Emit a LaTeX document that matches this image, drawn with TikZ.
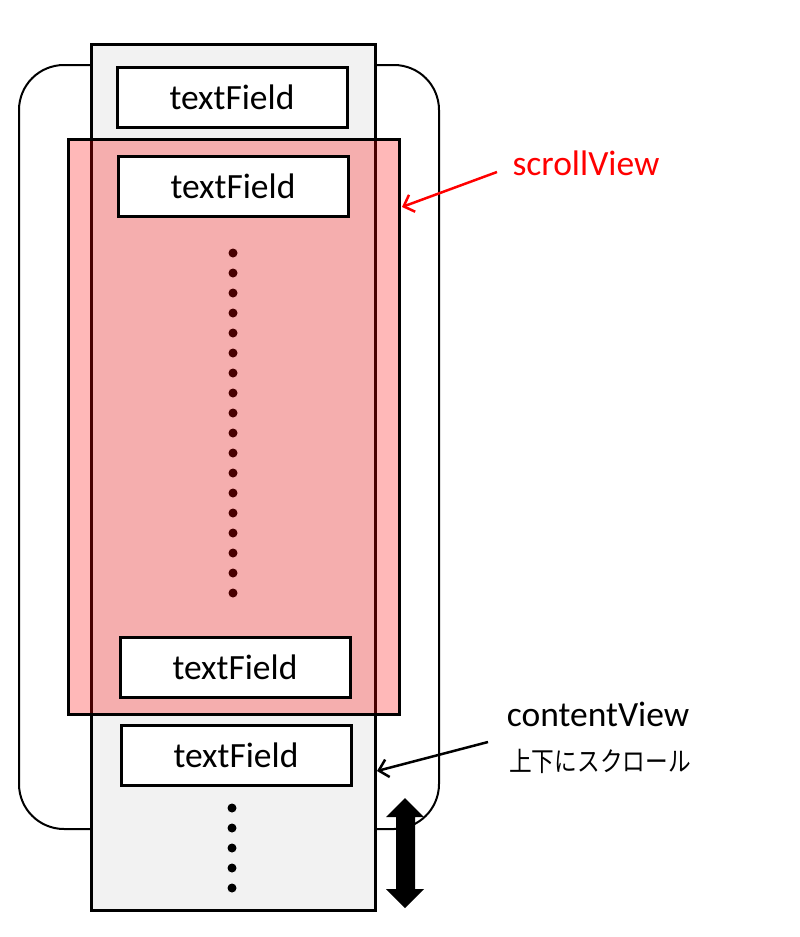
\documentclass[tikz,border=0pt]{standalone}
\usepackage{fontspec}
\setmainfont{Carlito}
\newfontfamily\jpfont{Noto Sans CJK JP}
\usetikzlibrary{arrows.meta}
\definecolor{cvgray}{RGB}{242,242,242}
\tikzset{
  field/.style={draw,line width=3pt,fill=white,minimum width=230pt,minimum height=60pt,
    inner sep=0pt,font=\fontsize{35.5}{40}\selectfont},
  lbl/.style={inner sep=0pt,font=\fontsize{35.5}{40}\selectfont},
  pointer/.style={line width=2.5pt,-{Straight Barb[length=9pt,width=18pt]}}
}

\begin{document}
\begin{tikzpicture}[x=1pt,y=-1pt]
	\def\r{4.5};
	\useasboundingbox (0,0) rectangle (800,937);
	\coordinate (svtail) at (497,172);
	\coordinate (svtip) at (402,207);
	\coordinate (cvtail) at (488,742);
	\coordinate (cvtip) at (377,771);
	% frame and contentView
	\draw[line width=2pt,rounded corners=45pt] (19,65) rectangle (439,829);
	\node[draw,line width=3pt,fill=cvgray,minimum width=284pt,minimum height=866pt,inner sep=0pt] (content) at (233,477) {};
	\node[field] (tf1) at (232,97) {textField};
	\foreach \i in {0,...,17}
		\fill (233,253+20*\i) circle [radius=\r];
	\foreach \i in {0,...,4}
		\fill (232,808+20*\i) circle [radius=\r];
	% scrollView
	\node[draw,line width=3pt,fill=red,fill opacity=0.28,draw opacity=1,minimum width=331pt,minimum height=575pt,inner sep=0pt] (scroll) at (233.5,426.5) {};
	\node[field] (tf2) at (233,186) {textField};
	\node[field] (tf3) at (235,667) {textField};
	\node[field] (tf4) at (236,755) {textField};
	% scroll arrow
	\fill (405,798) -- (424,817) -- (415,817) -- (415,889) -- (424,889) -- (405,908)
		-- (386,889) -- (396,889) -- (396,817) -- (386,817) -- cycle;
	% labels
	\node[lbl,text=red] (svlabel) at (586,163) {scrollView};
	\node[lbl] (cvlabel) at (598,714) {contentView};
	\node[inner sep=0pt] (cvnote) at (600,761) {\scalebox{0.84}[1]{\jpfont\fontsize{27}{30}\selectfont 上下にスクロール}};
	\draw[pointer,red] (svtail) -- (svtip);
	\draw[pointer] (cvtail) -- (cvtip);
\end{tikzpicture}
\end{document}
